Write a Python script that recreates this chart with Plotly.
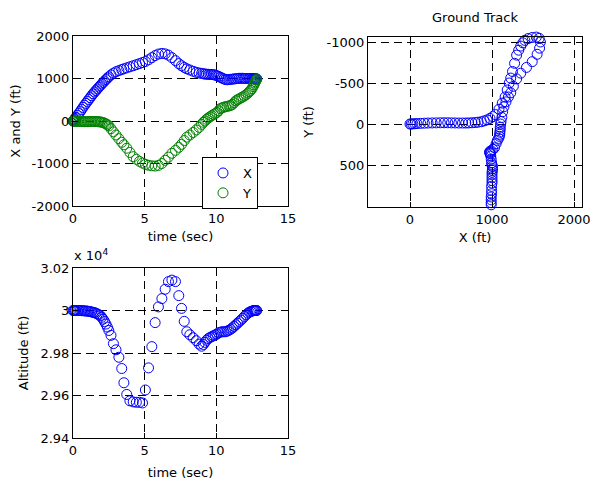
import plotly.graph_objects as go

# ---- data ----
time_s = [0, 0.05, 0.1, 0.15, 0.2, 0.3, 0.4, 0.5, 0.6, 0.7, 0.8, 0.9, 1.0, 1.1, 1.2, 1.3, 1.4, 1.5, 1.6, 1.7,
          1.8, 1.9, 2.0, 2.1, 2.2, 2.3, 2.4, 2.5, 2.65,
          2.82, 3.0, 3.2, 3.4, 3.55, 3.75, 3.97, 4.2, 4.42, 4.64, 4.85, 5.05, 5.27, 5.5, 5.73, 5.96, 6.2, 6.43,
          6.66, 6.9, 7.15, 7.38, 7.57, 7.76, 7.94, 8.15, 8.38, 8.6, 8.8, 8.97,
          9.1, 9.2, 9.32, 9.44, 9.56, 9.68, 9.8, 9.92, 10.04, 10.16, 10.28, 10.4, 10.52, 10.64, 10.76, 10.88,
          11.0, 11.12, 11.24, 11.36, 11.48, 11.6, 11.72, 11.84, 11.96, 12.08, 12.2, 12.3, 12.4, 12.48, 12.56,
          12.62, 12.68, 12.73, 12.78, 12.82]

x_ft = [0, 15, 35, 60, 85, 130, 175, 220, 270, 320, 370, 415, 460, 505, 550, 595, 640, 680, 715, 755,
        795, 830, 870, 905, 940, 975, 1010, 1040, 1085,
        1125, 1160, 1185, 1210, 1228, 1250, 1275, 1300, 1325, 1350, 1375, 1400, 1440, 1490, 1540, 1575, 1590, 1580,
        1550, 1490, 1420, 1350, 1300, 1260, 1228, 1200, 1170, 1145, 1130, 1120,
        1110, 1105, 1100, 1100, 1095, 1095, 1090, 1080, 1065, 1050, 1030, 1010, 990, 975, 970, 975,
        980, 985, 990, 995, 1000, 1005, 1005, 1005, 1000, 1000, 1000, 1000, 1000, 995, 995,
        995, 990, 990, 990, 990]

y_ft = [0, 0, -2, -3, -5, -8, -10, -12, -13, -14, -15, -15, -15, -14, -13, -12, -12, -12, -13, -15,
        -18, -22, -28, -38, -50, -68, -90, -115, -180,
        -255, -330, -415, -500, -560, -640, -740, -840, -900, -950, -990, -1020, -1042, -1055, -1060, -1045, -1000, -925,
        -850, -760, -690, -620, -550, -460, -380, -330, -270, -210, -150, -80,
        -30, 0, 40, 70, 100, 125, 150, 175, 200, 240, 290, 310, 325, 335, 345, 355,
        365, 390, 430, 475, 500, 520, 545, 565, 590, 620, 655, 690, 720, 760, 810,
        850, 890, 925, 960, 985]

altitude_ft = [30000, 30000, 30000, 30000, 30000, 30000, 30000, 30000, 29999, 29999, 29998, 29998, 29997, 29996,
               29995, 29993, 29991, 29990, 29987, 29984,
               29980, 29976, 29968, 29959, 29948, 29936, 29922, 29906, 29883,
               29844, 29815, 29780, 29727, 29660, 29605, 29575, 29570, 29568, 29568, 29565, 29626, 29730, 29830,
               29943, 30017, 30056, 30100,
               30136, 30143, 30136, 30070, 30010, 29949, 29900, 29886, 29872, 29858, 29842, 29832,
               29840, 29850, 29860, 29868, 29873, 29877, 29881, 29885, 29889, 29895, 29898, 29900, 29900, 29900,
               29903, 29907,
               29912, 29918, 29925, 29933, 29940, 29948, 29955, 29963, 29972, 29980, 29987, 29992, 29995, 29997,
               29999,
               30000, 30000, 30000, 30000, 30000]

time_ticks = [0, 5, 10, 15]
time_labels = ["0", "5", "10", "15"]
xy_ticks = [-2000, -1000, 0, 1000, 2000]
xy_labels = ["-2000", "-1000", "0", "1000", "2000"]
gt_x_ticks = [0, 1000, 2000]
gt_x_labels = ["0", "1000", "2000"]
gt_y_ticks = [-1000, -500, 0, 500]
gt_y_labels = ["-1000", "-500", "0", "500"]
alt_ticks = [29400, 29600, 29800, 30000, 30200]
alt_labels = ["2.94", "2.96", "2.98", "3", "3.02"]

BLUE = "rgb(0,0,255)"
GREEN = "rgb(0,128,0)"
FONT = "DejaVu Sans"

W, H = 590, 483
def px(a, b):
    return [a / W, b / W]
def py(top, bot):
    return [1 - bot / H, 1 - top / H]

fig = go.Figure()

def mk(color, name, xa, ya, xs, ys, show):
    fig.add_trace(go.Scatter(
        x=xs, y=ys, mode="markers", name=name, showlegend=show,
        xaxis=xa, yaxis=ya, cliponaxis=False,
        marker=dict(symbol="circle-open", size=10, color=color, line=dict(width=1, color=color)),
    ))

mk(BLUE, "X", "x", "y", time_s, x_ft, True)
mk(GREEN, "Y", "x", "y", time_s, y_ft, True)
mk(BLUE, "track", "x2", "y2", x_ft, y_ft, False)
mk(BLUE, "alt", "x3", "y3", time_s, altitude_ft, False)

axis_common = dict(
    showline=True, linecolor="black", linewidth=1, mirror="allticks",
    ticks="inside", ticklen=5, tickcolor="black", automargin=False,
    ticklabeloverflow="allow",
    showgrid=True, gridcolor="black", gridwidth=1, griddash="8px,5px",
    zeroline=False, tickfont=dict(family=FONT, size=13, color="black"),
    title_font=dict(family=FONT, size=13, color="black"),
)

fig.update_layout(
    template="none",
    width=W, height=H,
    margin=dict(l=0, r=0, t=0, b=0, pad=0, autoexpand=False),
    paper_bgcolor="white", plot_bgcolor="white",
    font=dict(family=FONT, size=13, color="black"),
    xaxis=dict(axis_common, domain=px(73, 288), anchor="y", range=[0, 15],
               tickvals=time_ticks, ticktext=time_labels, ticklabelstandoff=0,
               title=dict(text="time (sec)", standoff=7)),
    yaxis=dict(axis_common, domain=py(36, 206), anchor="x", range=[-2000, 2000],
               tickvals=xy_ticks, ticktext=xy_labels, ticklabelstandoff=0,
               title=dict(text="X and Y (ft)", standoff=8)),
    xaxis2=dict(axis_common, domain=px(368, 582), anchor="y2", range=[-512, 2097],
                tickvals=gt_x_ticks, ticktext=gt_x_labels, ticklabelstandoff=0,
                title=dict(text="X (ft)", standoff=7)),
    yaxis2=dict(axis_common, domain=py(37, 207), anchor="x2", range=[1012, -1061],
                tickvals=gt_y_ticks, ticktext=gt_y_labels, ticklabelstandoff=0,
                title=dict(text="Y (ft)", standoff=10)),
    xaxis3=dict(axis_common, domain=px(73, 288), anchor="y3", range=[0, 15],
                tickvals=time_ticks, ticktext=time_labels, ticklabelstandoff=0,
                title=dict(text="time (sec)", standoff=11)),
    yaxis3=dict(axis_common, domain=py(268, 438), anchor="x3", range=[29400, 30200],
                tickvals=alt_ticks, ticktext=alt_labels, ticklabelstandoff=0,
                title=dict(text="Altitude (ft)", standoff=8)),
    legend=dict(x=202 / W, y=1 - 157 / H, xanchor="left", yanchor="top",
                bordercolor="black", borderwidth=1, bgcolor="white", entrywidth=63,
                font=dict(family=FONT, size=13, color="black"), tracegroupgap=0),
    showlegend=True,
    annotations=[
        dict(text="Ground Track", x=475 / W, y=1 - 18 / H, xref="paper", yref="paper",
             xanchor="center", yanchor="middle", showarrow=False,
             font=dict(family=FONT, size=13, color="black")),
        dict(text="x 10<sup>4</sup>", x=72 / W, y=1 - 265 / H, xref="paper", yref="paper",
             xanchor="left", yanchor="bottom", showarrow=False,
             font=dict(family=FONT, size=13, color="black")),
    ],
)

fig.write_html("out.html", config={"displayModeBar": False},
               post_script="document.body.style.margin='0';document.documentElement.style.margin='0';")
